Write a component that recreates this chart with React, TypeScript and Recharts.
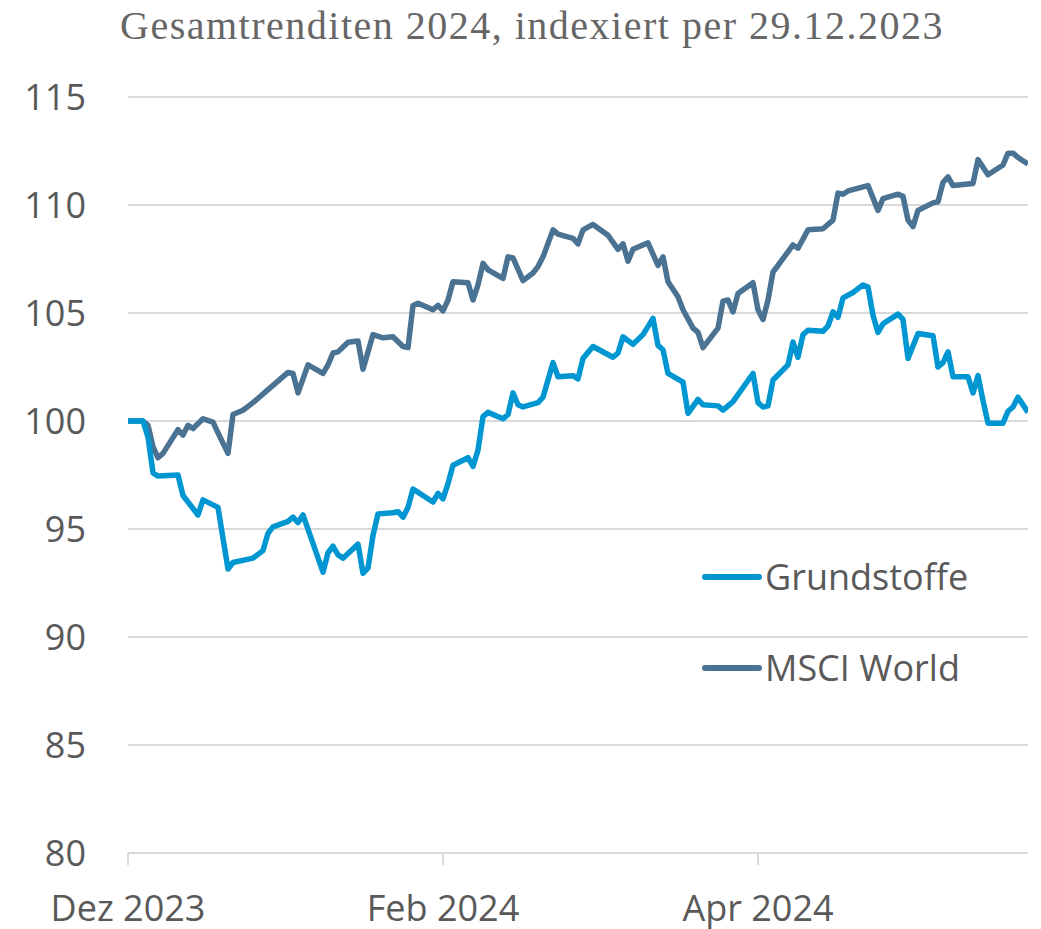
import { CartesianGrid, Line, LineChart, XAxis, YAxis } from "recharts";

// day offsets (calendar days after 29.12.2023) and index values
const grundDays = [0, 3, 4, 5, 6, 10, 11, 14, 15, 18, 20, 21, 25, 27, 28, 29, 32, 33, 34, 35, 39, 40, 41, 42, 43, 46, 47, 48, 49, 50, 53, 54, 55, 56, 57, 61, 62, 63, 64, 65, 68, 69, 70, 71, 72, 75, 76, 77, 78, 79, 82, 83, 85, 86, 89, 90, 91, 93, 97, 98, 99, 101, 103, 105, 106, 107, 108, 111, 112, 114, 115, 118, 119, 121, 125, 126, 127, 128, 129, 132, 133, 134, 135, 136, 139, 140, 141, 142, 143, 145, 147, 148, 149, 150, 151, 154, 155, 156, 158, 161, 162, 163, 164, 165, 168, 169, 170, 171, 172, 175, 176, 177, 178, 180];
const grundValues = [100, 100, 99.25, 97.6, 97.45, 97.5, 96.55, 95.65, 96.35, 96.0, 93.15, 93.45, 93.65, 94.0, 94.8, 95.1, 95.35, 95.55, 95.3, 95.65, 93.0, 93.9, 94.2, 93.8, 93.65, 94.3, 92.95, 93.2, 94.7, 95.7, 95.75, 95.8, 95.55, 96.0, 96.85, 96.25, 96.65, 96.4, 97.1, 97.95, 98.3, 97.9, 98.65, 100.2, 100.4, 100.1, 100.3, 101.3, 100.75, 100.65, 100.85, 101.1, 102.7, 102.05, 102.1, 101.95, 102.9, 103.45, 102.95, 103.15, 103.9, 103.55, 104.0, 104.75, 103.5, 103.3, 102.2, 101.8, 100.35, 101.0, 100.75, 100.7, 100.5, 100.9, 102.2, 100.85, 100.65, 100.7, 101.9, 102.6, 103.65, 102.95, 104.0, 104.2, 104.15, 104.4, 105.05, 104.8, 105.7, 105.95, 106.3, 106.2, 104.9, 104.1, 104.5, 104.95, 104.7, 102.9, 104.05, 103.95, 102.5, 102.7, 103.2, 102.05, 102.05, 101.3, 102.1, 100.95, 99.9, 99.9, 100.45, 100.65, 101.1, 100.4];

const msciDays = [0, 3, 4, 5, 6, 7, 10, 11, 12, 13, 15, 17, 18, 20, 21, 23, 25, 28, 29, 32, 33, 34, 36, 39, 40, 41, 42, 44, 46, 47, 49, 51, 53, 55, 56, 57, 58, 61, 62, 63, 64, 65, 68, 69, 70, 71, 72, 75, 76, 77, 79, 81, 82, 83, 85, 86, 89, 90, 91, 93, 96, 98, 99, 100, 101, 104, 106, 107, 108, 110, 111, 113, 114, 115, 118, 119, 120, 121, 122, 125, 126, 127, 128, 129, 130, 133, 134, 136, 139, 141, 142, 143, 144, 148, 150, 151, 154, 155, 156, 157, 158, 161, 162, 163, 164, 165, 169, 170, 172, 175, 176, 177, 178, 180];
const msciValues = [100, 100, 99.8, 98.8, 98.3, 98.5, 99.6, 99.35, 99.8, 99.65, 100.1, 99.95, 99.45, 98.5, 100.3, 100.5, 100.85, 101.45, 101.65, 102.25, 102.2, 101.3, 102.6, 102.2, 102.6, 103.15, 103.2, 103.65, 103.7, 102.4, 104.0, 103.85, 103.9, 103.45, 103.4, 105.35, 105.45, 105.15, 105.35, 105.1, 105.6, 106.45, 106.4, 105.6, 106.3, 107.3, 107.0, 106.6, 107.6, 107.55, 106.5, 106.85, 107.15, 107.6, 108.85, 108.65, 108.45, 108.2, 108.85, 109.1, 108.6, 107.95, 108.2, 107.4, 107.95, 108.25, 107.2, 107.6, 106.45, 105.75, 105.15, 104.3, 104.1, 103.4, 104.3, 105.55, 105.6, 105.05, 105.9, 106.4, 105.15, 104.7, 105.6, 106.9, 107.2, 108.15, 108.0, 108.85, 108.9, 109.3, 110.55, 110.5, 110.65, 110.9, 109.75, 110.3, 110.5, 110.4, 109.3, 109.0, 109.75, 110.1, 110.15, 111.05, 111.3, 110.9, 111.0, 112.1, 111.4, 111.85, 112.4, 112.4, 112.2, 111.9];

const xTicks = [0, 63, 126];
const xTickLabels = ["Dez 2023", "Feb 2024", "Apr 2024"];
const yTicks = [80, 85, 90, 95, 100, 105, 110, 115];

const seriesNames = ["Grundstoffe", "MSCI World"];
const seriesColors = ["#0096d2", "#4a7292"];

const grundData = grundDays.map((d, i) => ({ day: d, value: grundValues[i] }));
const msciData = msciDays.map((d, i) => ({ day: d, value: msciValues[i] }));

const textColor = "#595959";
const gridColor = "#d9d9d9";
const sans = "'Open Sans', sans-serif";

function LegendBox() {
  return (
    <div
      style={{
        position: "absolute",
        left: 700,
        top: 531,
        fontFamily: sans,
        fontSize: 36,
        color: textColor,
      }}
    >
      {seriesNames.map((name, i) => (
        <div key={name} style={{ display: "flex", alignItems: "center", height: 91 }}>
          <svg width={62} height={10} style={{ marginRight: 3 }}>
            <line x1={5} y1={5} x2={59} y2={5} stroke={seriesColors[i]} strokeWidth={6} strokeLinecap="round" />
          </svg>
          <span>{name}</span>
        </div>
      ))}
    </div>
  );
}

export default function App() {
  return (
    <div style={{ position: "absolute", left: 0, top: 0, width: 1041, height: 929, background: "#fff" }}>
      <div
        style={{
          position: "absolute",
          top: 2,
          left: 0,
          width: 1064,
          textAlign: "center",
          fontFamily: "'Liberation Serif', serif",
          fontSize: 40,
          letterSpacing: 1.5,
          color: "#666666",
          whiteSpace: "nowrap",
        }}
      >
        Gesamtrenditen 2024, indexiert per 29.12.2023
      </div>
      <LineChart width={1041} height={929} margin={{ top: 97, right: 13, bottom: 0, left: 0 }}>
        <CartesianGrid vertical={false} stroke={gridColor} strokeWidth={2} />
        <XAxis
          type="number"
          dataKey="day"
          domain={[0, 180]}
          ticks={xTicks}
          tickFormatter={(v: number) => xTickLabels[xTicks.indexOf(v)]}
          height={76}
          axisLine={{ stroke: gridColor, strokeWidth: 2 }}
          tickLine={{ stroke: gridColor, strokeWidth: 2 }}
          tickSize={12}
          tickMargin={30}
          tick={{ fill: textColor, fontSize: 36, fontFamily: sans }}
          allowDataOverflow
        />
        <YAxis
          type="number"
          domain={[80, 115]}
          ticks={yTicks}
          width={128}
          axisLine={false}
          tickLine={false}
          tickSize={0}
          tickMargin={42}
          tick={{ fill: textColor, fontSize: 36, fontFamily: sans }}
        />
        <Line
          data={msciData}
          dataKey="value"
          name={seriesNames[1]}
          type="linear"
          stroke={seriesColors[1]}
          strokeWidth={5.5}
          strokeLinejoin="round"
          dot={false}
          isAnimationActive={false}
        />
        <Line
          data={grundData}
          dataKey="value"
          name={seriesNames[0]}
          type="linear"
          stroke={seriesColors[0]}
          strokeWidth={5.5}
          strokeLinejoin="round"
          dot={false}
          isAnimationActive={false}
        />
      </LineChart>
      <LegendBox />
    </div>
  );
}
